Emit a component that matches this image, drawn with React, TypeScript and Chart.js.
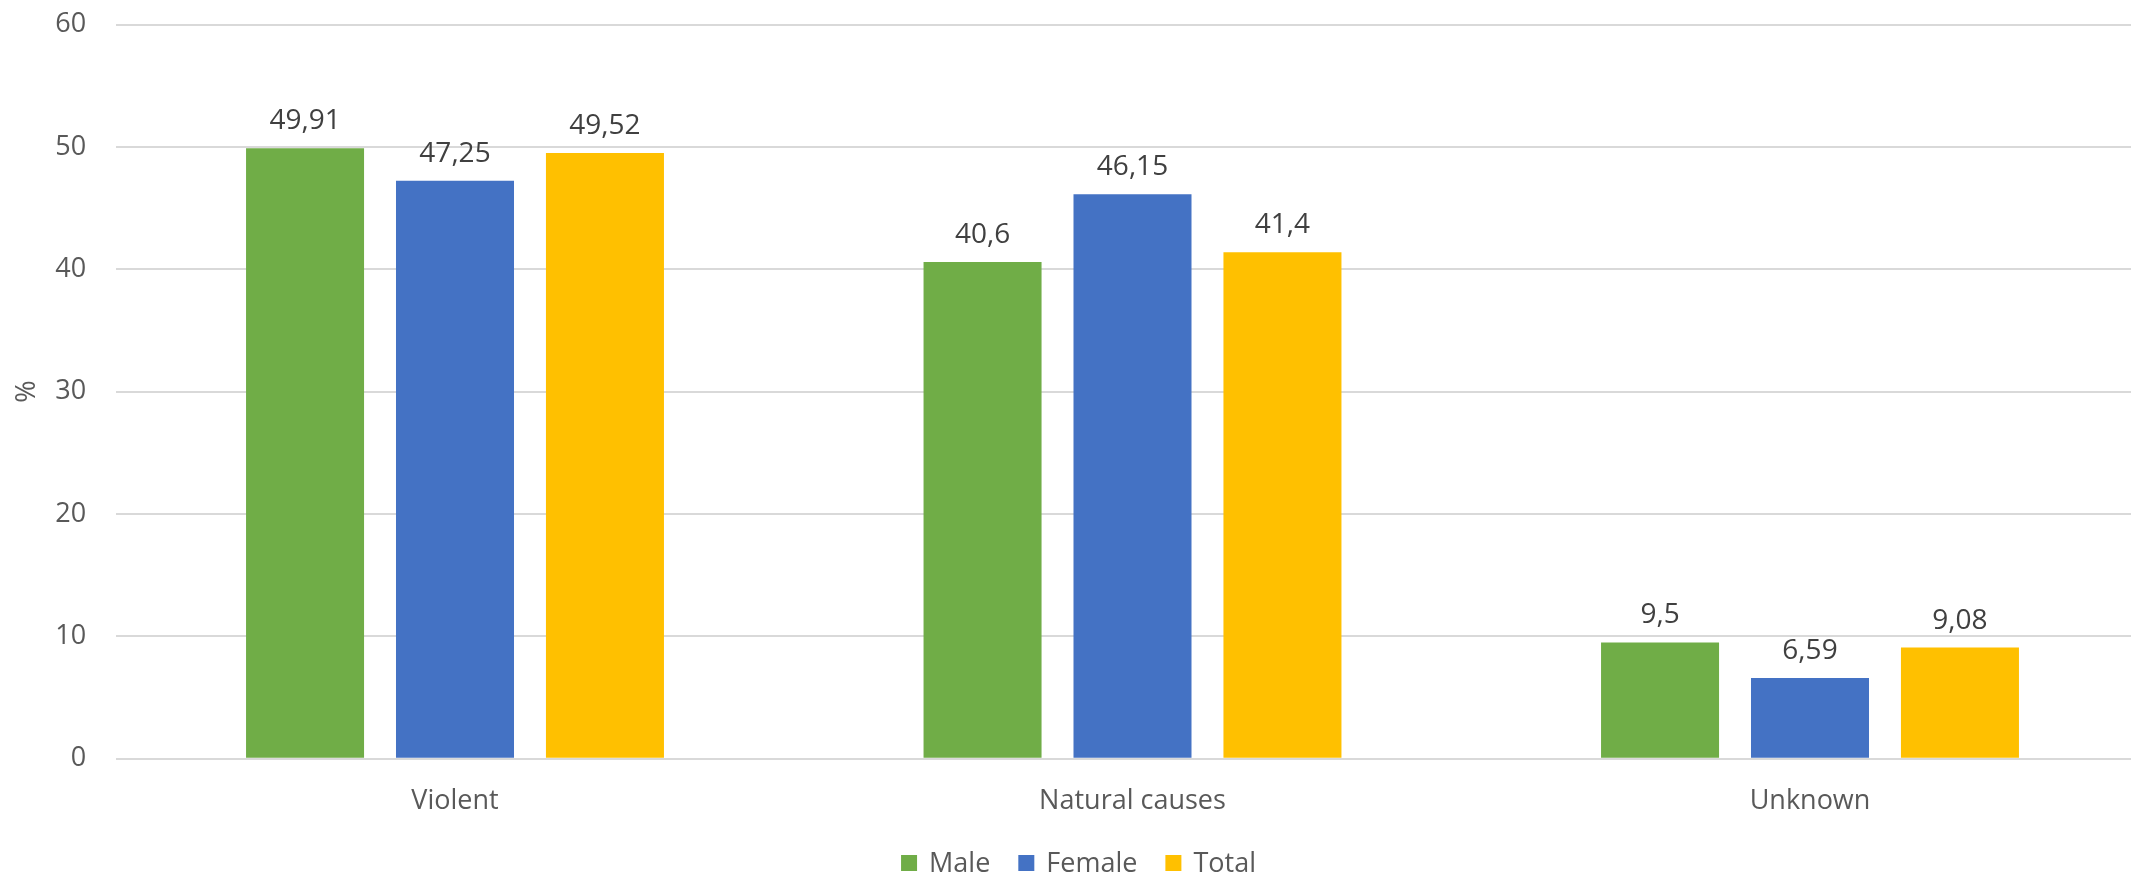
import React, { useEffect, useRef } from "react";
import { Chart, registerables } from "chart.js";

Chart.register(...registerables);

// Cause-of-death shares (%) by sex
const categories = ["Violent", "Natural causes", "Unknown"];
const seriesNames = ["Male", "Female", "Total"];
const maleValues = [49.91, 40.6, 9.5];
const femaleValues = [47.25, 46.15, 6.59];
const totalValues = [49.52, 41.4, 9.08];
const seriesColors = ["#70AD47", "#4472C4", "#FFC000"];
const yTicks = [0, 10, 20, 30, 40, 50, 60];

const FONT = "'Open Sans', 'DejaVu Sans', sans-serif";
const AXIS_COLOR = "#595959";
const LABEL_COLOR = "#404040";

const CANVAS_W = 2157;
const CANVAS_H = 876;

const formatValue = (v: number) => String(v).replace(".", ",");

// Value labels above every bar, decimal comma
const valueLabels = {
  id: "valueLabels",
  afterDatasetsDraw(chart: any) {
    const ctx = chart.ctx;
    ctx.save();
    ctx.font = `28px ${FONT}`;
    ctx.fillStyle = LABEL_COLOR;
    ctx.textAlign = "center";
    ctx.textBaseline = "alphabetic";
    chart.data.datasets.forEach((ds: any, i: number) => {
      const meta = chart.getDatasetMeta(i);
      meta.data.forEach((bar: any, j: number) => {
        ctx.fillText(formatValue(ds.data[j]), bar.x, bar.y - 19);
      });
    });
    ctx.restore();
  },
};

// Legend row centred under the chart
const bottomLegend = {
  id: "bottomLegend",
  afterDraw(chart: any) {
    const ctx = chart.ctx;
    const box = 16;
    const gap = 12;
    const spacing = 28;
    ctx.save();
    ctx.font = `27px ${FONT}`;
    const items = chart.data.datasets.map((ds: any) => ({
      label: ds.label,
      color: ds.backgroundColor,
      w: ctx.measureText(ds.label).width,
    }));
    const total =
      items.reduce((s: number, it: any) => s + box + gap + it.w, 0) +
      spacing * (items.length - 1);
    let x = chart.width / 2 - total / 2;
    const cy = 863;
    ctx.textBaseline = "middle";
    ctx.textAlign = "left";
    items.forEach((it: any) => {
      ctx.fillStyle = it.color;
      ctx.fillRect(x, cy - box / 2, box, box);
      ctx.fillStyle = AXIS_COLOR;
      ctx.fillText(it.label, x + box + gap, cy + 1);
      x += box + gap + it.w + spacing;
    });
    ctx.restore();
  },
};

export default function App() {
  const canvasRef = useRef<HTMLCanvasElement | null>(null);

  useEffect(() => {
    if (!canvasRef.current) return;
    const chart = new Chart(canvasRef.current, {
      type: "bar",
      data: {
        labels: categories,
        datasets: [maleValues, femaleValues, totalValues].map((vals, i) => ({
          label: seriesNames[i],
          data: vals,
          backgroundColor: seriesColors[i],
          borderWidth: 0,
          categoryPercentage: 0.664,
          barPercentage: 0.787,
        })),
      },
      options: {
        responsive: false,
        animation: false,
        devicePixelRatio: 1,
        layout: { padding: { left: 0, right: 8.25, top: 24.7, bottom: 0 } },
        plugins: {
          legend: { display: false },
          tooltip: { enabled: false },
        },
        scales: {
          x: {
            grid: { display: false, drawTicks: false },
            border: { display: false },
            ticks: {
              color: AXIS_COLOR,
              font: { family: FONT, size: 27 },
              padding: 26,
            },
            afterFit: (s: any) => {
              s.height = CANVAS_H - 758.7;
            },
          },
          y: {
            min: 0,
            max: 60,
            afterBuildTicks: (s: any) => {
              s.ticks = yTicks.map((v) => ({ value: v }));
            },
            grid: { color: "#D9D9D9", lineWidth: 2, drawTicks: false },
            border: { display: false },
            ticks: {
              color: AXIS_COLOR,
              font: { family: FONT, size: 27 },
              padding: 30,
            },
            title: {
              display: true,
              text: "%",
              color: AXIS_COLOR,
              font: { family: FONT, size: 27 },
              padding: { top: 11, bottom: 0 },
            },
            afterFit: (s: any) => {
              s.width = 116.25;
              s.paddingTop = 0;
              s.paddingBottom = 0;
            },
          },
        },
      },
      plugins: [valueLabels, bottomLegend],
    });
    return () => chart.destroy();
  }, []);

  return (
    <div
      style={{
        position: "fixed",
        left: 0,
        top: 0,
        width: 2131,
        height: CANVAS_H,
        overflow: "hidden",
        background: "#fff",
      }}
    >
      <canvas
        ref={canvasRef}
        width={CANVAS_W}
        height={CANVAS_H}
        style={{ width: CANVAS_W, height: CANVAS_H, display: "block" }}
      />
    </div>
  );
}
